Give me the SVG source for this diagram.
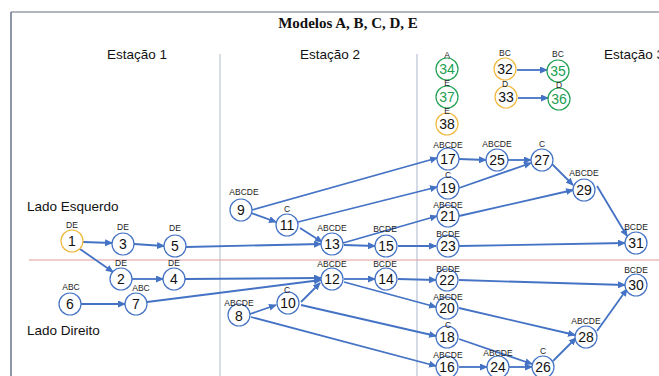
<svg xmlns="http://www.w3.org/2000/svg" width="659" height="376" viewBox="0 0 659 376">
  <style>
    .node circle { fill: #fff; stroke: #4472c4; stroke-width: 1.2; }
    .node.orange circle { stroke: #f0b83c; }
    .node.green circle { stroke: #21a052; }
    .num { font-family: "Liberation Sans", Arial, sans-serif; font-size: 14px; fill: #111; text-anchor: middle; }
    .green .num { fill: #21a052; }
    .lbl { font-family: "Liberation Sans", Arial, sans-serif; font-size: 8.5px; fill: #222; text-anchor: middle; }
    .head { font-family: "Liberation Sans", Arial, sans-serif; font-size: 13.5px; fill: #111; }
    .edge { stroke: #4472c4; stroke-width: 1.8; fill: none; marker-end: url(#arr); }
  </style>
  <defs>
    <marker id="arr" markerWidth="8" markerHeight="7" refX="7" refY="3.5" orient="auto" markerUnits="userSpaceOnUse">
      <path d="M0,0 L8,3.5 L0,7 Z" fill="#4472c4"/>
    </marker>
  </defs>
  <rect width="659" height="376" fill="#fff"/>

  <!-- frame, dividers and headings -->
  <g id="frame">
    <line x1="11" y1="12" x2="659" y2="12" stroke="#9a9ea6" stroke-width="1.5"/>
    <line x1="11" y1="12" x2="11" y2="376" stroke="#6a7390" stroke-width="1.5"/>
    <line x1="220" y1="54" x2="220" y2="376" stroke="#b4bccb" stroke-width="1"/>
    <line x1="417" y1="54" x2="417" y2="376" stroke="#a9b6cf" stroke-width="1"/>
    <line x1="29" y1="260" x2="659" y2="260" stroke="#e49a9a" stroke-width="1"/>
    <text x="348" y="28" font-family="Liberation Serif, 'Times New Roman', serif" font-weight="bold" font-size="15" text-anchor="middle" fill="#111">Modelos A, B, C, D, E</text>
    <text class="head" x="107" y="59">Estação 1</text>
    <text class="head" x="300" y="59">Estação 2</text>
    <text class="head" x="604" y="59">Estação 3</text>
    <text class="head" x="27" y="211">Lado Esquerdo</text>
    <text class="head" x="27" y="335">Lado Direito</text>
  </g>

  <!-- connectors -->
  <g id="connectors">
    <line class="edge" x1="83" y1="242" x2="112" y2="243"/>
    <line class="edge" x1="80" y1="249" x2="113" y2="272"/>
    <line class="edge" x1="134" y1="244" x2="164" y2="246"/>
    <line class="edge" x1="186" y1="247" x2="321" y2="244"/>
    <line class="edge" x1="132" y1="279" x2="163" y2="279"/>
    <line class="edge" x1="185" y1="279" x2="321" y2="278"/>
    <line class="edge" x1="81" y1="304" x2="125" y2="304"/>
    <line class="edge" x1="147" y1="302" x2="321" y2="280"/>
    <line class="edge" x1="252" y1="210" x2="437" y2="158"/>
    <line class="edge" x1="251" y1="213" x2="276" y2="222"/>
    <line class="edge" x1="298" y1="222" x2="437" y2="187"/>
    <line class="edge" x1="300" y1="228" x2="322" y2="242"/>
    <line class="edge" x1="343" y1="243" x2="437" y2="216"/>
    <line class="edge" x1="344" y1="245" x2="375" y2="246"/>
    <line class="edge" x1="398" y1="246" x2="436" y2="246"/>
    <line class="edge" x1="250" y1="314" x2="276" y2="305"/>
    <line class="edge" x1="301" y1="302" x2="320" y2="283"/>
    <line class="edge" x1="344" y1="279" x2="375" y2="279"/>
    <line class="edge" x1="344" y1="282" x2="436" y2="307"/>
    <line class="edge" x1="301" y1="305" x2="436" y2="336"/>
    <line class="edge" x1="251" y1="317" x2="436" y2="366"/>
    <line class="edge" x1="398" y1="279" x2="436" y2="280"/>
    <line class="edge" x1="459" y1="159" x2="486" y2="160"/>
    <line class="edge" x1="508" y1="160" x2="531" y2="160"/>
    <line class="edge" x1="459" y1="188" x2="531" y2="163"/>
    <line class="edge" x1="552" y1="164" x2="573" y2="185"/>
    <line class="edge" x1="459" y1="216" x2="573" y2="190"/>
    <line class="edge" x1="597" y1="186" x2="627" y2="236"/>
    <line class="edge" x1="459" y1="246" x2="625" y2="243"/>
    <line class="edge" x1="459" y1="280" x2="625" y2="285"/>
    <line class="edge" x1="459" y1="308" x2="575" y2="335"/>
    <line class="edge" x1="459" y1="339" x2="532" y2="364"/>
    <line class="edge" x1="459" y1="367" x2="487" y2="367"/>
    <line class="edge" x1="509" y1="367" x2="532" y2="367"/>
    <line class="edge" x1="553" y1="361" x2="576" y2="338"/>
    <line class="edge" x1="597" y1="331" x2="627" y2="289"/>
    <line class="edge" x1="517" y1="70" x2="547" y2="70"/>
    <line class="edge" x1="518" y1="98" x2="548" y2="98"/>
  </g>

  <!-- nodes -->
  <g id="n1" class="node orange"><circle cx="72" cy="241" r="11"/><text class="num" x="72" y="246">1</text><text class="lbl" x="72" y="228">DE</text></g>
  <g id="n2" class="node"><circle cx="121" cy="279" r="11"/><text class="num" x="121" y="284">2</text><text class="lbl" x="121" y="266">DE</text></g>
  <g id="n3" class="node"><circle cx="123" cy="244" r="11"/><text class="num" x="123" y="249">3</text><text class="lbl" x="123" y="230">DE</text></g>
  <g id="n4" class="node"><circle cx="174" cy="279" r="11"/><text class="num" x="174" y="284">4</text><text class="lbl" x="174" y="266">DE</text></g>
  <g id="n5" class="node"><circle cx="175" cy="246" r="11"/><text class="num" x="175" y="251">5</text><text class="lbl" x="175" y="231">DE</text></g>
  <g id="n6" class="node"><circle cx="70" cy="304" r="11"/><text class="num" x="70" y="309">6</text><text class="lbl" x="71" y="290">ABC</text></g>
  <g id="n7" class="node"><circle cx="136" cy="304" r="11"/><text class="num" x="136" y="309">7</text><text class="lbl" x="141" y="291">ABC</text></g>
  <g id="n8" class="node"><circle cx="239" cy="315" r="11"/><text class="num" x="239" y="321">8</text><text class="lbl" x="239" y="306">ABCDE</text></g>
  <g id="n9" class="node"><circle cx="241" cy="210" r="11"/><text class="num" x="241" y="215">9</text><text class="lbl" x="244" y="195">ABCDE</text></g>
  <g id="n10" class="node"><circle cx="288" cy="303" r="11"/><text class="num" x="288" y="308">10</text><text class="lbl" x="287" y="293">C</text></g>
  <g id="n11" class="node"><circle cx="287" cy="225" r="11"/><text class="num" x="287" y="230">11</text><text class="lbl" x="287" y="212">C</text></g>
  <g id="n12" class="node"><circle cx="332" cy="279" r="11"/><text class="num" x="332" y="284">12</text><text class="lbl" x="332" y="267">ABCDE</text></g>
  <g id="n13" class="node"><circle cx="332" cy="244" r="11"/><text class="num" x="332" y="249">13</text><text class="lbl" x="332" y="231">ABCDE</text></g>
  <g id="n14" class="node"><circle cx="386" cy="279" r="11"/><text class="num" x="386" y="284">14</text><text class="lbl" x="385" y="267">BCDE</text></g>
  <g id="n15" class="node"><circle cx="386" cy="246" r="11"/><text class="num" x="386" y="251">15</text><text class="lbl" x="385" y="232">BCDE</text></g>
  <g id="n16" class="node"><circle cx="447" cy="367" r="11"/><text class="num" x="447" y="372">16</text><text class="lbl" x="448" y="358">ABCDE</text></g>
  <g id="n17" class="node"><circle cx="448" cy="159" r="11"/><text class="num" x="448" y="164">17</text><text class="lbl" x="448" y="148">ABCDE</text></g>
  <g id="n18" class="node"><circle cx="447" cy="337" r="11"/><text class="num" x="447" y="342">18</text><text class="lbl" x="448" y="328">C</text></g>
  <g id="n19" class="node"><circle cx="448" cy="188" r="11"/><text class="num" x="448" y="193">19</text><text class="lbl" x="448" y="178">C</text></g>
  <g id="n20" class="node"><circle cx="447" cy="308" r="11"/><text class="num" x="447" y="313">20</text><text class="lbl" x="448" y="300">ABCDE</text></g>
  <g id="n21" class="node"><circle cx="448" cy="216" r="11"/><text class="num" x="448" y="221">21</text><text class="lbl" x="448" y="208">ABCDE</text></g>
  <g id="n22" class="node"><circle cx="447" cy="280" r="11"/><text class="num" x="447" y="285">22</text><text class="lbl" x="448" y="272">BCDE</text></g>
  <g id="n23" class="node"><circle cx="448" cy="246" r="11"/><text class="num" x="448" y="251">23</text><text class="lbl" x="448" y="237">BCDE</text></g>
  <g id="n24" class="node"><circle cx="498" cy="367" r="11"/><text class="num" x="498" y="372">24</text><text class="lbl" x="498" y="356">ABCDE</text></g>
  <g id="n25" class="node"><circle cx="497" cy="160" r="11"/><text class="num" x="497" y="165">25</text><text class="lbl" x="497" y="147">ABCDE</text></g>
  <g id="n26" class="node"><circle cx="543" cy="367" r="11"/><text class="num" x="543" y="372">26</text><text class="lbl" x="543" y="354">C</text></g>
  <g id="n27" class="node"><circle cx="542" cy="160" r="11"/><text class="num" x="542" y="165">27</text><text class="lbl" x="542" y="147">C</text></g>
  <g id="n28" class="node"><circle cx="586" cy="337" r="11"/><text class="num" x="586" y="342">28</text><text class="lbl" x="586" y="324">ABCDE</text></g>
  <g id="n29" class="node"><circle cx="584" cy="190" r="11"/><text class="num" x="584" y="195">29</text><text class="lbl" x="584" y="176">ABCDE</text></g>
  <g id="n30" class="node"><circle cx="636" cy="285" r="11"/><text class="num" x="636" y="290">30</text><text class="lbl" x="636" y="273">BCDE</text></g>
  <g id="n31" class="node"><circle cx="636" cy="243" r="11"/><text class="num" x="636" y="248">31</text><text class="lbl" x="636" y="230">BCDE</text></g>
  <g id="n32" class="node orange"><circle cx="505" cy="69" r="11"/><text class="num" x="505" y="74">32</text><text class="lbl" x="505" y="56">BC</text></g>
  <g id="n33" class="node orange"><circle cx="506" cy="97" r="11"/><text class="num" x="506" y="102">33</text><text class="lbl" x="505" y="87">D</text></g>
  <g id="n34" class="node green"><circle cx="447" cy="69" r="11"/><text class="num" x="447" y="74">34</text><text class="lbl" x="447" y="58">A</text></g>
  <g id="n35" class="node green"><circle cx="558" cy="71" r="11"/><text class="num" x="558" y="76">35</text><text class="lbl" x="558" y="57">BC</text></g>
  <g id="n36" class="node green"><circle cx="559" cy="99" r="11"/><text class="num" x="559" y="104">36</text><text class="lbl" x="559" y="88">D</text></g>
  <g id="n37" class="node green"><circle cx="447" cy="97" r="11"/><text class="num" x="447" y="102">37</text><text class="lbl" x="447" y="86">E</text></g>
  <g id="n38" class="node orange"><circle cx="447" cy="124" r="11"/><text class="num" x="447" y="129">38</text><text class="lbl" x="447" y="114">E</text></g>
</svg>
